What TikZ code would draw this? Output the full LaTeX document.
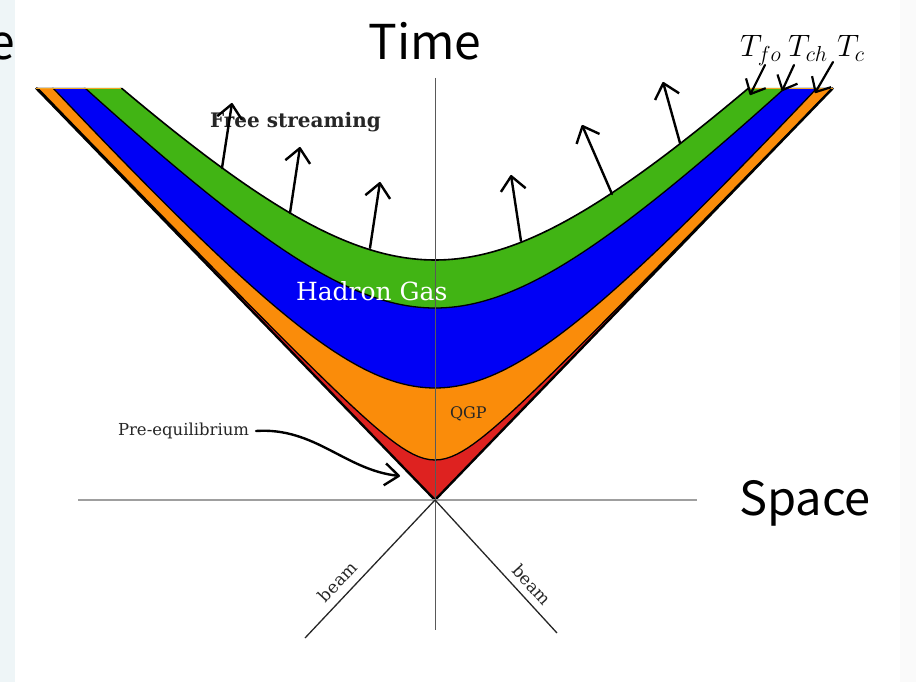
\RequirePackage{fix-cm}
\documentclass[tikz,border=0pt]{standalone}
\usepackage{fontspec}
\setmainfont{DejaVu Serif}
\newfontfamily\jpsans{Noto Sans CJK JP}
\usetikzlibrary{arrows.meta}
\definecolor{qred}{HTML}{DE2220}
\definecolor{qorange}{HTML}{FA8C0A}
\definecolor{qblue}{HTML}{0000F5}
\definecolor{qgreen}{HTML}{41B414}
\definecolor{stripblue}{HTML}{EEF5F7}
\definecolor{topedge}{HTML}{F5A623}
\begin{document}
\begin{tikzpicture}[x=1pt,y=-1pt,
  declare function={hyp(\d,\b)=100*sqrt((\d/100)^2+(\b/100)^2)-\b;},
  lbl/.style={inner sep=0pt, outer sep=0pt},
  bandline/.style={draw=black, line width=1.3pt},
  fsarrow/.style={line width=2.4pt, line cap=round, -{Straight Barb[length=14pt,width=25pt,line join=round]}},
  tarrow/.style={line width=2.2pt, line cap=round, -{Straight Barb[length=12pt,width=22pt,line join=round]}},
  axisline/.style={draw=gray!75, line width=1.4pt},
  beamline/.style={draw=black!85, line width=1.3pt},
  beamlbl/.style={lbl, anchor=base, font=\fontsize{17}{17}\selectfont, text=black!85}]
\useasboundingbox (0,0) rectangle (916,682);
\fill[stripblue] (0,0) rectangle (15,682);
\fill[black!2] (900,0) rectangle (916,682);

% named points
\coordinate (apex) at (435,500);
\coordinate (tl) at (36,88);
\coordinate (tr) at (833,88);
\coordinate (vtop) at (435,78);
\coordinate (vbot) at (435,630);
\coordinate (hl) at (78,500);
\coordinate (hr) at (697,500);
\coordinate (beamL) at (305,638);
\coordinate (beamR) at (557,633);

% bands
\begin{scope}
\clip (tl) -- (apex) -- (tr) -- cycle;
\fill[qgreen] plot[domain=-440:440,samples=161] ({435+\x},{260-hyp(\x,200)}) -- (916,800) -- (0,800) -- cycle;
\fill[qblue] plot[domain=-440:440,samples=161] ({435+\x},{308-hyp(\x,168.4)}) -- (916,800) -- (0,800) -- cycle;
\fill[qorange] plot[domain=-440:440,samples=161] ({435+\x},{388-1.124*hyp(\x,140)}) -- (916,800) -- (0,800) -- cycle;
\fill[qred] plot[domain=-440:440,samples=161] ({435+\x},{460-1.035*hyp(\x,40)}) -- (916,800) -- (0,800) -- cycle;
\draw[bandline] plot[domain=-440:440,samples=161] ({435+\x},{460-1.035*hyp(\x,40)});
\draw[bandline] plot[domain=-440:440,samples=161] ({435+\x},{388-1.124*hyp(\x,140)});
\draw[bandline] plot[domain=-440:440,samples=161] ({435+\x},{308-hyp(\x,168.4)});
\draw[bandline, line width=1.6pt] plot[domain=-440:440,samples=161] ({435+\x},{260-hyp(\x,200)});
\end{scope}
\draw[line width=2.4pt] (tl) -- (apex) -- (tr);
\draw[topedge, line width=0.9pt] (tl) -- (121,88);
\draw[topedge, line width=0.9pt] (749,88) -- (tr);

% axes
\draw[axisline] (hl) -- (hr);
\draw[draw=black!65, line width=0.9pt] (vtop) -- (vbot);
\draw[beamline] (apex) -- (beamL);
\draw[beamline] (apex) -- (beamR);

% titles
\node[lbl, anchor=base, font=\jpsans\fontsize{48}{50}\selectfont] (time) at (425,60) {Time};
\node[lbl, anchor=base east, font=\jpsans\fontsize{48}{50}\selectfont] (cut) at (15,60) {e};
\node[lbl, anchor=base, font=\jpsans\fontsize{47}{50}\selectfont] (space) at (805,515) {Space};

% labels
\node[lbl, anchor=base west, font=\bfseries\fontsize{20}{21}\selectfont, text=black!85] (fs) at (210,128) {Free streaming};
\node[lbl, anchor=base west, font=\fontsize{25}{26}\selectfont, text=white] (hg) at (296,300) {Hadron Gas};
\node[lbl, anchor=base west, font=\fontsize{16}{16}\selectfont, text=black!85] (qgp) at (450,418) {QGP};
\node[lbl, anchor=base west, font=\fontsize{16.5}{17}\selectfont, text=black!85] (pre) at (118,435) {Pre-equilibrium};
\node[beamlbl, rotate=46.7] (bl) at (342,586) {beam};
\node[beamlbl, rotate=-47.5] (br) at (527,589) {beam};

% temperature labels
\node[lbl, anchor=base west, font=\fontsize{31}{32}\selectfont] (tfo) at (740,57) {$T_{fo}$};
\node[lbl, anchor=base west, font=\fontsize{31}{32}\selectfont] (tch) at (788,57) {$T_{ch}$};
\node[lbl, anchor=base west, font=\fontsize{31}{32}\selectfont] (tc) at (837,57) {$T_{c}$};
\coordinate (tfoS) at (765,65); \coordinate (tfoE) at (750,95);
\coordinate (tchS) at (794,65); \coordinate (tchE) at (782,91);
\coordinate (tcS) at (833,62); \coordinate (tcE) at (815,93);
\draw[tarrow] (tfoS) -- (tfoE);
\draw[tarrow] (tchS) -- (tchE);
\draw[tarrow] (tcS) -- (tcE);

% free streaming arrows
\coordinate (a1s) at (222,168); \coordinate (a1e) at (232,103);
\coordinate (a2s) at (290,213); \coordinate (a2e) at (300,147);
\coordinate (a3s) at (370,248); \coordinate (a3e) at (380,182);
\coordinate (a4s) at (521,241); \coordinate (a4e) at (511,175);
\coordinate (a5s) at (612,194); \coordinate (a5e) at (582,125);
\coordinate (a6s) at (680,143); \coordinate (a6e) at (663,82);
\draw[fsarrow] (a1s) -- (a1e);
\draw[fsarrow] (a2s) -- (a2e);
\draw[fsarrow] (a3s) -- (a3e);
\draw[fsarrow] (a4s) -- (a4e);
\draw[fsarrow] (a5s) -- (a5e);
\draw[fsarrow] (a6s) -- (a6e);

% pre-equilibrium arrow
\coordinate (preS) at (256,431);
\coordinate (preE) at (400,476);
\draw[line width=2.4pt, line cap=round, -{Straight Barb[length=14pt,width=22pt,line join=round]}] (preS) .. controls (315,427) and (345,470) .. (preE);
\end{tikzpicture}
\end{document}
